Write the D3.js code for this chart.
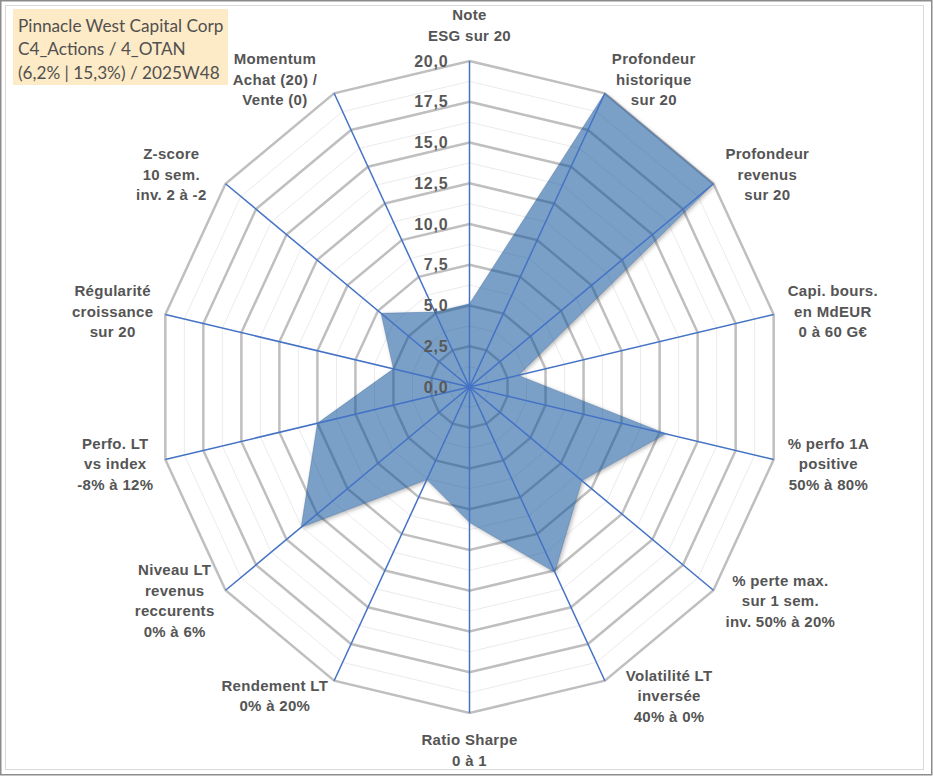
<!DOCTYPE html>
<html>
<head>
<meta charset="utf-8">
<script src="https://cdn.jsdelivr.net/npm/d3@7"></script>
<style>
  html, body { margin: 0; padding: 0; background: #ffffff; }
  svg { display: block; }
  .axis-label { font-family: "Liberation Sans", Arial, sans-serif; font-weight: bold; font-size: 15px; letter-spacing: 0.3px; fill: #555555; }
  .tick-label { font-family: "Liberation Sans", Arial, sans-serif; font-weight: bold; font-size: 16px; letter-spacing: 0.8px; fill: #595959; }
  .title { font-family: Lato, "Open Sans", sans-serif; font-size: 17.2px; fill: #505050; }
</style>
</head>
<body>
<div id="chart"></div>
<script>
/* ── Data ───────────────────────────────────────────────────────────── */
const AXIS_LABELS = [
  ['Note', 'ESG sur 20'],
  ['Profondeur', 'historique', 'sur 20'],
  ['Profondeur', 'revenus', 'sur 20'],
  ['Capi. bours.', 'en MdEUR', '0 à 60 G€'],
  ['% perfo 1A', 'positive', '50% à 80%'],
  ['% perte max.', 'sur 1 sem.', 'inv. 50% à 20%'],
  ['Volatilité LT', 'inversée', '40% à 0%'],
  ['Ratio Sharpe', '0 à 1'],
  ['Rendement LT', '0% à 20%'],
  ['Niveau LT', 'revenus', 'reccurents', '0% à 6%'],
  ['Perfo. LT', 'vs index', '-8% à 12%'],
  ['Régularité', 'croissance', 'sur 20'],
  ['Z-score', '10 sem.', 'inv. 2 à -2'],
  ['Momentum', 'Achat (20) /', 'Vente (0)']
];
const SCORES = [5.1, 20, 20, 3.2, 12.9, 9.2, 12.6, 8.3, 6.3, 13.8, 10.0, 5.0, 7.25, 5.1];
const MAJOR_TICKS = [0, 2.5, 5, 7.5, 10, 12.5, 15, 17.5, 20];
const MINOR_TICKS = [1.25, 3.75, 6.25, 8.75, 11.25, 13.75, 16.25, 18.75];
const TITLE_LINES = ['Pinnacle West Capital Corp', 'C4_Actions / 4_OTAN', '(6,2% | 15,3%) / 2025W48'];

/* ── Layout ─────────────────────────────────────────────────────────── */
const TW = 933, TH = 776;
const CX = 469.5, CY = 387;
const RX = 312, RY = 326;          // the source picture is slightly squeezed horizontally
const LABEL_GAP = 12;
const LINE_H = 20.5;
const LABEL_NUDGE = [0, -5, 0, 2, 2, 0, 9, 0, 6, 1, 0, 0, -7, -5];

const N = AXIS_LABELS.length;
const angle = d3.scaleLinear().domain([0, N]).range([0, 2 * Math.PI]);
const rx = d3.scaleLinear().domain([0, 20]).range([0, RX]);
const ry = d3.scaleLinear().domain([0, 20]).range([0, RY]);
const px = (i, v) => CX + rx(v) * Math.sin(angle(i));
const py = (i, v) => CY - ry(v) * Math.cos(angle(i));

const svg = d3.select('#chart').append('svg')
  .attr('width', TW).attr('height', TH);

// frame
svg.append('rect')
  .attr('x', 0.75).attr('y', 0.75).attr('width', TW - 2).attr('height', TH - 2)
  .attr('fill', '#ffffff').attr('stroke', '#8c8c8c').attr('stroke-width', 1.5);
svg.append('rect')
  .attr('x', 5.5).attr('y', 5.5).attr('width', 918).attr('height', 764)
  .attr('fill', 'none').attr('stroke', '#d9d9d9').attr('stroke-width', 1);

const area = d3.line().curve(d3.curveLinearClosed)
  .x((d, i) => px(i, d)).y((d, i) => py(i, d));

// shadow only outside the (semi-transparent) series shape
const defs = svg.append('defs');
defs.append('filter').attr('id', 'blur')
  .attr('x', '-10%').attr('y', '-10%').attr('width', '120%').attr('height', '120%')
  .append('feGaussianBlur').attr('stdDeviation', 2);
const mask = defs.append('mask').attr('id', 'outside')
  .attr('maskUnits', 'userSpaceOnUse')
  .attr('x', 0).attr('y', 0).attr('width', TW).attr('height', TH);
mask.append('rect').attr('width', TW).attr('height', TH).attr('fill', '#fff');
mask.append('path').datum(SCORES).attr('d', area).attr('fill', '#000');

const ring = v => d3.line().curve(d3.curveLinearClosed)(d3.range(N).map(i => [px(i, v), py(i, v)]));

/* ── Grid ───────────────────────────────────────────────────────────── */
const grid = svg.append('g');
grid.selectAll('path.minor').data(MINOR_TICKS).join('path')
  .attr('class', 'minor')
  .attr('d', ring)
  .attr('fill', 'none').attr('stroke', '#ebebeb').attr('stroke-width', 1);
grid.selectAll('path.major').data(MAJOR_TICKS.filter(v => v > 0)).join('path')
  .attr('class', 'major')
  .attr('d', ring)
  .attr('fill', 'none').attr('stroke', '#bfbfbf').attr('stroke-width', 2.5)
  .attr('stroke-linejoin', 'miter');

/* ── Series ─────────────────────────────────────────────────────────── */
svg.append('g').attr('mask', 'url(#outside)')
  .append('path')
  .datum(SCORES)
  .attr('d', area)
  .attr('transform', 'translate(1.5,1.5)')
  .attr('fill', '#000').attr('fill-opacity', 0.3)
  .attr('filter', 'url(#blur)');
svg.append('path')
  .datum(SCORES)
  .attr('d', area)
  .attr('fill', '#0f529b').attr('fill-opacity', 0.55)
  .attr('stroke', '#3d6aa3').attr('stroke-opacity', 0.4).attr('stroke-width', 1);

/* ── Spokes ─────────────────────────────────────────────────────────── */
svg.append('g').selectAll('line').data(d3.range(N)).join('line')
  .attr('x1', CX).attr('y1', CY)
  .attr('x2', i => px(i, 20)).attr('y2', i => py(i, 20))
  .attr('stroke', '#4472c4').attr('stroke-width', 1.5);

/* ── Tick labels ────────────────────────────────────────────────────── */
const fmt = v => d3.format('.1f')(v).replace('.', ',');
svg.append('g').selectAll('text').data(MAJOR_TICKS).join('text')
  .attr('class', 'tick-label')
  .attr('x', CX - 21)
  .attr('y', v => CY - ry(v))
  .attr('text-anchor', 'end')
  .attr('dominant-baseline', 'central')
  .text(fmt);

/* ── Axis labels ────────────────────────────────────────────────────── */
const labels = svg.append('g').selectAll('text').data(AXIS_LABELS).join('text')
  .attr('class', 'axis-label')
  .attr('text-anchor', 'middle')
  .attr('dominant-baseline', 'central');
labels.selectAll('tspan').data(d => d).join('tspan').text(d => d);

labels.each(function (lines, i) {
  const t = d3.select(this);
  const w = d3.max(t.selectAll('tspan').nodes(), n => n.getComputedTextLength());
  const s = Math.sin(angle(i)), c = Math.cos(angle(i));
  const h = (lines.length - 1) * LINE_H;
  let x, yc;
  if (Math.abs(s) < 0.1) {
    x = CX;
    yc = CY - Math.sign(c) * (RY + 16 + h / 2 + LINE_H / 2);
  } else {
    x = px(i, 20) + Math.sign(s) * (w / 2 + LABEL_GAP);
    yc = CY - c * (RY + 16);
  }
  x += LABEL_NUDGE[i];
  t.selectAll('tspan')
    .attr('x', x)
    .attr('y', (_, k) => yc - h / 2 + k * LINE_H);
});

/* ── Title box ──────────────────────────────────────────────────────── */
svg.append('rect')
  .attr('x', 13).attr('y', 9).attr('width', 215).attr('height', 76)
  .attr('fill', '#fdeac6');
svg.append('g').selectAll('text').data(TITLE_LINES).join('text')
  .attr('class', 'title')
  .attr('x', 18)
  .attr('y', (_, k) => 25 + k * 23.5)
  .attr('dominant-baseline', 'central')
  .text(d => d);
</script>
</body>
</html>
